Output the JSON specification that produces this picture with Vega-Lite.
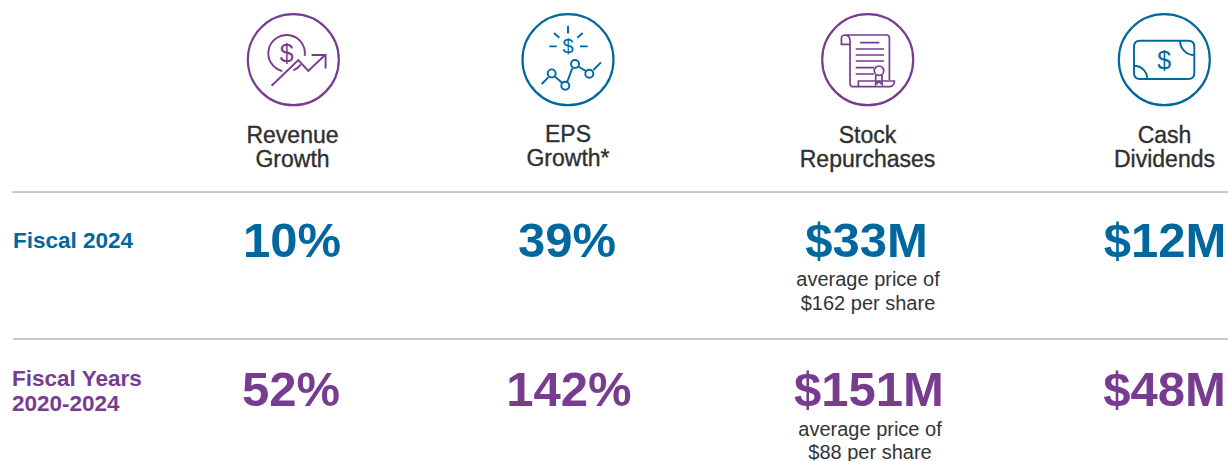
{
"$schema":"https://vega.github.io/schema/vega-lite/v6.json",
"width":1228,"height":461,"padding":0,"autosize":"none",
"background":"#ffffff","view":{"stroke":null},
"encoding":{
"x":{"field":"x","type":"quantitative","scale":{"domain":[0,1228],"nice":false,"zero":false},"axis":null},
"y":{"field":"y","type":"quantitative","scale":{"domain":[0,461],"reverse":true,"nice":false,"zero":false},"axis":null}
},
"layer":[
{"data":{"values":[{"x":12,"x2":1228,"y":192},{"x":13,"x2":1228,"y":339}]},
"mark":{"type":"rule","stroke":"#949494","strokeWidth":1},
"encoding":{"x2":{"field":"x2"}}},
{"data":{"values":[
{"label":"Revenue","x":292.5,"y":135.5},{"label":"Growth","x":292.5,"y":159.5},
{"label":"EPS","x":568,"y":134.5},{"label":"Growth*","x":568,"y":158.5},
{"label":"Stock","x":867.5,"y":135.5},{"label":"Repurchases","x":867.5,"y":160},
{"label":"Cash","x":1164.5,"y":135.5},{"label":"Dividends","x":1164.5,"y":160}]},
"mark":{"type":"text","font":"Liberation Sans","fontSize":23,"align":"center","baseline":"middle","fill":"#2f2f2f","stroke":"#2f2f2f","strokeWidth":0.35},
"encoding":{"text":{"field":"label"}}},
{"data":{"values":[
{"label":"Fiscal 2024","period":"Fiscal 2024","x":13,"y":241},
{"label":"Fiscal Years","period":"Fiscal Years 2020-2024","x":12,"y":379},
{"label":"2020-2024","period":"Fiscal Years 2020-2024","x":12,"y":404}]},
"mark":{"type":"text","font":"Liberation Sans","fontWeight":"bold","fontSize":22.5,"align":"left","baseline":"middle"},
"encoding":{"text":{"field":"label"},"color":{"field":"period","type":"nominal","legend":null,"scale":{"domain":["Fiscal 2024","Fiscal Years 2020-2024"],"range":["#00689f","#773c90"]}}}},
{"data":{"values":[
{"label":"10%","period":"Fiscal 2024","x":292,"y":241.5},
{"label":"39%","period":"Fiscal 2024","x":567,"y":241.5},
{"label":"$33M","period":"Fiscal 2024","x":866.5,"y":241.5},
{"label":"$12M","period":"Fiscal 2024","x":1165,"y":241.5},
{"label":"52%","period":"Fiscal Years 2020-2024","x":291,"y":391},
{"label":"142%","period":"Fiscal Years 2020-2024","x":569,"y":391},
{"label":"$151M","period":"Fiscal Years 2020-2024","x":869,"y":391},
{"label":"$48M","period":"Fiscal Years 2020-2024","x":1164.5,"y":391}]},
"mark":{"type":"text","font":"Liberation Sans","fontWeight":"bold","fontSize":49,"align":"center","baseline":"middle"},
"encoding":{"text":{"field":"label"},"color":{"field":"period","type":"nominal","legend":null,"scale":{"domain":["Fiscal 2024","Fiscal Years 2020-2024"],"range":["#00689f","#773c90"]}}}},
{"data":{"values":[
{"label":"average price of","x":868,"y":279.5},{"label":"$162 per share","x":868,"y":303.5},
{"label":"average price of","x":870,"y":430},{"label":"$88 per share","x":870,"y":452.5}]},
"mark":{"type":"text","font":"Liberation Sans","fontSize":20,"align":"center","baseline":"middle","fill":"#333333"},
"encoding":{"text":{"field":"label"}}},
{"data":{"values":[{"icon":"Revenue Growth","x":293.3,"y":59.7},{"icon":"Stock Repurchases","x":867.7,"y":59.7}]},
"mark":{"type":"point","shape":"circle","size":8281,"filled":false,"stroke":"#773c90","strokeWidth":2.2,"opacity":1}},
{"data":{"values":[{"icon":"EPS Growth","x":568,"y":59.7},{"icon":"Cash Dividends","x":1164.3,"y":59.7}]},
"mark":{"type":"point","shape":"circle","size":8281,"filled":false,"stroke":"#00689f","strokeWidth":2.2,"opacity":1}},
{"data":{"values":[{"icon":"Revenue Growth","x":293.3,"y":59.7}]},
"mark":{"type":"point","size":4,"filled":false,"stroke":"#773c90","strokeWidth":1.9,"opacity":1,
"shape":"M11.4,-3.8A18.3,18.3 0 1 0 -11,11.4M0,10.7A18.3,18.3 0 0 0 7.5,5M-21.7,26L5,0.3L15,11.3L31.7,-4.7M18.3,-4.7L32.3,-4.7L32.3,8.7"}},
{"data":{"values":[{"icon":"EPS Growth","x":568,"y":59.7}]},
"mark":{"type":"point","size":4,"filled":false,"stroke":"#00689f","strokeWidth":1.9,"opacity":1,
"shape":"M0,-34L0,-26.3M-14,-26.7L-8.7,-22M14.7,-26.7L9.3,-22M-18.7,-13.3L-11.3,-13.3M12,-13.3L19.7,-13.3M-26.3,24.3L-19.7,17.7M-13.3,16.7L-5.7,23.3M-0.7,22L4.3,8.7M10.7,7L18,11.3M25.3,10.3L33,2.7M-20.3,13.7a4,4 0 1 0 8,0a4,4 0 1 0 -8,0M-6.7,26a4,4 0 1 0 8,0a4,4 0 1 0 -8,0M3,4.3a4,4 0 1 0 8,0a4,4 0 1 0 -8,0M17.3,14a4,4 0 1 0 8,0a4,4 0 1 0 -8,0"}},
{"data":{"values":[{"icon":"Stock Repurchases","x":867.7,"y":59.7}]},
"mark":{"type":"point","size":4,"filled":false,"stroke":"#773c90","strokeWidth":1.7,"opacity":1,
"shape":"M-22.7,-24.7L19,-24.7Q21.7,-24.7 21.7,-22L21.7,20.3M-22.7,-24.7Q-26.3,-24.7 -26.3,-21L-26.3,-15.3L-17.7,-15.3M-22.7,-24.7Q-17.7,-24 -17.7,-19.3L-17.7,23.7Q-17.7,27 -14.3,27L22.3,27Q26.7,26 26.7,21.3L-9.3,21.3L-9.3,27M6.6,11a4.7,4.7 0 1 0 9.4,0a4.7,4.7 0 1 0 -9.4,0M8,15.3L8,24.7L11.3,22L14.3,24.7L14.3,15.3M-7.7,-17L11.7,-17M-12,-10.7L16.3,-10.7M-12,-4.7L16.3,-4.7M-12,1.3L16.3,1.3M-12,8L6.3,8M-12,14.3L6.3,14.3"}},
{"data":{"values":[{"icon":"Cash Dividends","x":1164.3,"y":59.7}]},
"mark":{"type":"point","size":4,"filled":false,"stroke":"#00689f","strokeWidth":1.9,"opacity":1,
"shape":"M-24.3,-19L24,-19Q30,-19 30,-13L30,13.3Q30,19.3 24,19.3L-24.3,19.3Q-30.3,19.3 -30.3,13.3L-30.3,-13Q-30.3,-19 -24.3,-19ZM15.7,-19A14.3,14.3 0 0 0 30,-4.7M-30.3,6A13.3,13.3 0 0 1 -17,19.3"}},
{"data":{"values":[{"icon":"Revenue Growth","x":286.6,"y":53.5}]},
"mark":{"type":"text","text":"$","font":"Liberation Sans","fontSize":25,"align":"center","baseline":"middle","fill":"#773c90"}},
{"data":{"values":[{"icon":"Cash Dividends","x":1164.3,"y":60.5}]},
"mark":{"type":"text","text":"$","font":"Liberation Sans","fontSize":25,"align":"center","baseline":"middle","fill":"#00689f"}},
{"data":{"values":[{"icon":"EPS Growth","x":568,"y":46.5}]},
"mark":{"type":"text","text":"$","font":"Liberation Sans","fontSize":20,"align":"center","baseline":"middle","fill":"#00689f"}}
]
}
